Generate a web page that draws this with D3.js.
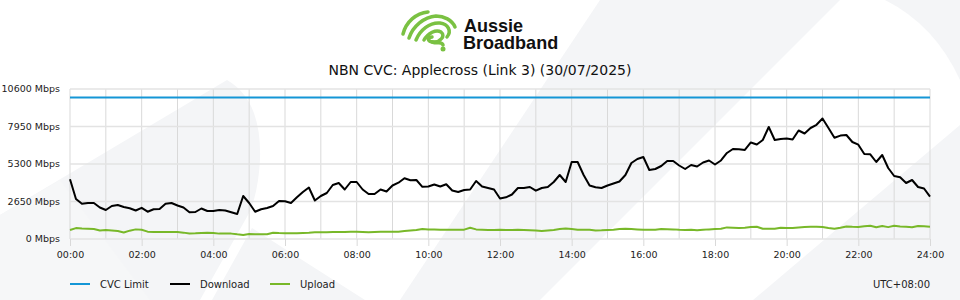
<!DOCTYPE html>
<html>
<head>
<meta charset="utf-8">
<script src="https://cdn.jsdelivr.net/npm/d3@7"></script>
<style>
  body { margin: 0; background: #fff; }
  svg { display: block; font-family: "DejaVu Sans", sans-serif; }
</style>
</head>
<body>
<div id="chart"></div>
<script>
// samples every 10 minutes, 00:00 .. 24:00
const stepMinutes = 10;

const download = [
  4219, 2827, 2488, 2544, 2544, 2226, 2049, 2332, 2403, 2261,
  2170, 2014, 2205, 1929, 2099, 2120, 2488, 2544, 2367, 2226,
  1887, 1908, 2155, 1979, 1979, 2049, 2014, 1894, 1767, 3039,
  2544, 1929, 2099, 2191, 2332, 2685, 2671, 2544, 2947, 3321,
  3640, 2721, 3039, 3251, 3816, 3957, 3498, 4028, 4028, 3498,
  3180, 3180, 3498, 3357, 3781, 3979, 4290, 4148, 4169, 3689,
  3710, 3852, 3710, 3866, 3427, 3321, 3463, 3498, 4099, 3710,
  3604, 3498, 2862, 2947, 3145, 3604, 3604, 3675, 3413, 3604,
  3675, 4028, 4523, 4028, 5442, 5442, 4523, 3781, 3654, 3604,
  3781, 3922, 4064, 4523, 5371, 5654, 5795, 4876, 4947, 5159,
  5512, 5512, 5194, 4947, 5230, 5124, 5406, 5548, 5265, 5548,
  6078, 6360, 6339, 6290, 6820, 6678, 6996, 7915, 6996, 7067,
  7102, 7032, 7668, 7456, 7844, 8070, 8516, 7844, 7152, 7307,
  7350, 6855, 6664, 6007, 5986, 5442, 5936, 5018, 4452, 4360,
  3957, 4169, 3675, 3569, 2989
];

const upload = [
  640, 770, 740, 720, 700, 600, 630, 600, 560, 460,
  590, 680, 650, 520, 500, 500, 500, 500, 490, 450,
  390, 400, 420, 440, 430, 380, 380, 380, 330, 290,
  360, 340, 340, 330, 440, 420, 410, 400, 410, 430,
  440, 470, 470, 480, 495, 500, 500, 510, 516, 500,
  480, 500, 510, 520, 520, 520, 560, 600, 640, 700,
  680, 670, 660, 660, 660, 660, 660, 790, 680, 660,
  640, 640, 650, 640, 630, 650, 640, 620, 600, 560,
  600, 640, 700, 750, 700, 650, 660, 650, 600, 610,
  640, 660, 700, 720, 700, 680, 660, 650, 660, 700,
  690, 680, 650, 640, 660, 620, 650, 680, 700, 720,
  820, 800, 780, 800, 840, 870, 720, 720, 730, 800,
  780, 780, 820, 850, 860, 870, 840, 780, 730, 800,
  880, 860, 850, 900, 940, 830, 920, 840, 930, 880,
  860, 830, 920, 900, 870
];

const cvcLimit = 10000;

const yTicks = [0, 2650, 5300, 7950, 10600];
const xTickHours = [0, 2, 4, 6, 8, 10, 12, 14, 16, 18, 20, 22, 24];
const xTickLabels = ["00:00", "02:00", "04:00", "06:00", "08:00", "10:00", "12:00",
  "14:00", "16:00", "18:00", "20:00", "22:00", "24:00"];

const legendItems = [
  { name: "CVC Limit", color: "#1496d6" },
  { name: "Download", color: "#000000" },
  { name: "Upload", color: "#78b829" }
];

const width = 960;
const height = 300;
const margin = { top: 89, right: 30, bottom: 61, left: 70 };

const svg = d3.select("#chart").append("svg")
  .attr("width", width)
  .attr("height", height);

// faint background shapes (watermark)
const bg = svg.append("g").attr("fill", "#f4f5f7");
bg.append("path").attr("d", "M0,300 L0,215 L227,80 Q262,100 260,160 Q258,195 248,215 L200,300 Z");
bg.append("path").attr("d", "M0,300 L0,215 L60,180 L150,300 Z").attr("fill", "#f6f7f8");
bg.append("path").attr("d", "M212,300 L252,228 L365,300 Z");
bg.append("path").attr("d", "M400,300 L600,0 L840,0 L540,300 Z");
bg.append("path").attr("d", "M753,300 L960,125 L960,300 Z");
bg.append("path").attr("d", "M885,0 L960,0 L960,80 Q935,25 885,0 Z");

const x = d3.scaleLinear()
  .domain([0, 24])
  .range([margin.left, width - margin.right]);

const y = d3.scaleLinear()
  .domain([0, 10600])
  .range([height - margin.bottom, margin.top]);

const hourOf = i => i * stepMinutes / 60;

// grid
svg.append("g")
  .selectAll("line")
  .data(d3.range(0, 25))
  .enter().append("line")
  .attr("x1", d => x(d)).attr("x2", d => x(d))
  .attr("y1", y(10600)).attr("y2", y(0))
  .attr("stroke", "#d9d9d9")
  .attr("stroke-width", 1);

svg.append("g")
  .selectAll("line")
  .data(yTicks)
  .enter().append("line")
  .attr("x1", x(0)).attr("x2", x(24))
  .attr("y1", d => y(d)).attr("y2", d => y(d))
  .attr("stroke", "#e3e3e3")
  .attr("stroke-width", 1.5);

// y labels
svg.append("g")
  .selectAll("text")
  .data(yTicks)
  .enter().append("text")
  .attr("x", 60)
  .attr("y", d => y(d))
  .attr("dy", "0.35em")
  .attr("text-anchor", "end")
  .attr("font-size", "9.5px")
  .attr("fill", "#222")
  .text(d => `${d} Mbps`);

// x axis ticks + labels
const xa = svg.append("g")
  .attr("transform", `translate(0,${y(0)})`)
  .call(d3.axisBottom(x).tickValues(xTickHours).tickFormat((d, i) => xTickLabels[i]).tickSize(7).tickPadding(5));
xa.select(".domain").remove();
xa.selectAll(".tick line").attr("stroke", "#d9d9d9");
xa.selectAll(".tick text")
  .attr("font-family", "DejaVu Sans, sans-serif")
  .attr("font-size", "9.5px")
  .attr("fill", "#222");

// lines
const line = d3.line()
  .x((d, i) => x(hourOf(i)))
  .y(d => y(d));

svg.append("path")
  .datum([cvcLimit, cvcLimit])
  .attr("fill", "none")
  .attr("stroke", legendItems[0].color)
  .attr("stroke-width", 2)
  .attr("d", d3.line().x((d, i) => x(i * 24)).y(d => y(d)));

svg.append("path")
  .datum(upload)
  .attr("fill", "none")
  .attr("stroke", legendItems[2].color)
  .attr("stroke-width", 2)
  .attr("stroke-linejoin", "round")
  .attr("d", line);

svg.append("path")
  .datum(download)
  .attr("fill", "none")
  .attr("stroke", legendItems[1].color)
  .attr("stroke-width", 2)
  .attr("stroke-linejoin", "round")
  .attr("d", line);

// legend
const legend = svg.append("g")
  .attr("transform", "translate(70,284)")
  .selectAll("g")
  .data(legendItems)
  .enter().append("g")
  .attr("transform", (d, i) => `translate(${i * 100},0)`);

legend.append("line")
  .attr("x1", 0).attr("x2", 20)
  .attr("stroke", d => d.color)
  .attr("stroke-width", 2);

legend.append("text")
  .attr("x", 30)
  .attr("dy", "0.35em")
  .attr("font-size", "10px")
  .attr("fill", "#222")
  .text(d => d.name);

svg.append("text")
  .attr("x", 930)
  .attr("y", 284)
  .attr("dy", "0.35em")
  .attr("text-anchor", "end")
  .attr("font-size", "10px")
  .attr("fill", "#222")
  .text("UTC+08:00");

// title
svg.append("text")
  .attr("x", width / 2)
  .attr("y", 70)
  .attr("dy", "0.35em")
  .attr("text-anchor", "middle")
  .attr("font-size", "14px")
  .attr("fill", "#111")
  .text("NBN CVC: Applecross (Link 3) (30/07/2025)");

// logo
const logo = svg.append("g")
  .attr("fill", "none")
  .attr("stroke", "#7ac142")
  .attr("stroke-width", 3.5)
  .attr("stroke-linecap", "round");
logo.append("path").attr("d", "M403,34 C406,22 416,13 428,12");
logo.append("path").attr("d", "M409,38 C413,26 424,17 436,16 C444,16 452,20 455,27");
logo.append("path").attr("d", "M416,40 C420,30 430,22 440,23 C448,24 452,31 447,37");
logo.append("path").attr("d", "M424,40 C428,33 436,29 441,32 C446,36 440,42 434,42 C428,42 426,38 432,37");
logo.append("path").attr("d", "M432,42 C438,44 442,41 443,45");
svg.append("circle").attr("cx", 443).attr("cy", 49).attr("r", 2.5).attr("fill", "#7ac142");

const brand = svg.append("text")
  .attr("transform", "translate(463,0) scale(0.95,1)")
  .attr("font-family", "Liberation Sans, Arial, sans-serif")
  .attr("font-weight", "bold")
  .attr("font-size", "19px")
  .attr("fill", "#111");
brand.append("tspan").attr("x", 1).attr("y", 32).text("Aussie");
brand.append("tspan").attr("x", 0).attr("y", 49).text("Broadband");
</script>
</body>
</html>
